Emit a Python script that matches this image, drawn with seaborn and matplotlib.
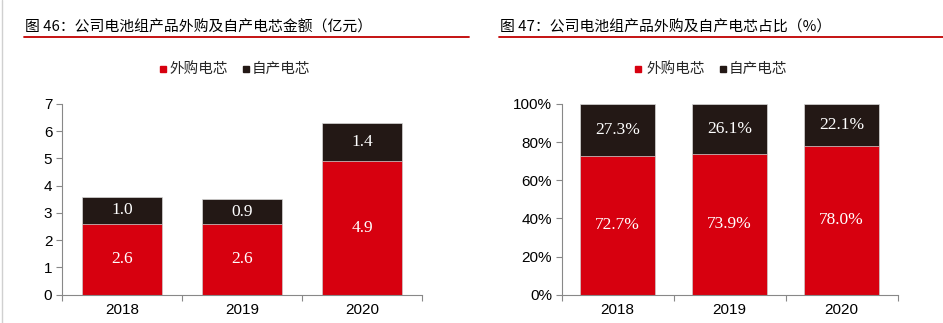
import matplotlib
matplotlib.use("Agg")
import matplotlib.pyplot as plt
from matplotlib.lines import Line2D
from matplotlib.patches import Rectangle
from matplotlib.ticker import FixedLocator
import seaborn as sns
import pandas as pd

years = ["2018", "2019", "2020"]
outsourced = [2.6, 2.6, 4.9]
selfmade = [1.0, 0.9, 1.4]
outsourced_pct = [72.7, 73.9, 78.0]
selfmade_pct = [27.3, 26.1, 22.1]

title_left = "图 46：公司电池组产品外购及自产电芯金额（亿元）"
title_right = "图 47：公司电池组产品外购及自产电芯占比（%）"
legend_labels = ["外购电芯", "自产电芯"]

RED = "#D7000F"
DARK = "#231815"

sns.set_theme(style="white")
plt.rcParams['font.family'] = ['Liberation Sans', 'Noto Sans CJK SC', 'DejaVu Sans']
CJK = ['Noto Sans CJK SC', 'DejaVu Sans']

fig = plt.figure(figsize=(9.43, 3.23), dpi=100)
W, H = 943, 323

def fx(x):
    return x / W

def fy(y):
    return 1 - y / H

# left border line
fig.add_artist(Line2D([fx(2), fx(2)], [0, 1], color="#d0d0d0", lw=1))

def panel(ax_rect, bottom_vals, top_vals, ymax, yticks, ytlabels, fmt):
    ax = fig.add_axes(ax_rect)
    df = pd.DataFrame({"year": years,
                       "total": [a + b for a, b in zip(bottom_vals, top_vals)],
                       "bottom": bottom_vals})
    sns.barplot(data=df, x="year", y="total", order=years, color=DARK,
                width=0.667, saturation=1, edgecolor="#d8d8d8", linewidth=0.5, ax=ax)
    sns.barplot(data=df, x="year", y="bottom", order=years, color=RED,
                width=0.667, saturation=1, edgecolor="#d8d8d8", linewidth=0.5, ax=ax)
    ax.set_xlim(-0.5, 2.5)
    ax.set_ylim(0, ymax)
    ax.set_xlabel("")
    ax.set_ylabel("")
    ax.set_yticks(yticks)
    ax.set_yticklabels(ytlabels)
    ax.xaxis.set_minor_locator(FixedLocator([-0.5, 0.5, 1.5, 2.5]))
    ax.tick_params(axis="x", which="major", length=0, labelsize=11, pad=6, colors="#000000")
    ax.tick_params(axis="x", which="minor", length=4, width=0.8, color="#888888", bottom=True)
    ax.tick_params(axis="y", which="major", length=4, width=0.8, color="#888888", left=True,
                   labelsize=11, pad=3, labelcolor="#000000")
    for s in ["top", "right"]:
        ax.spines[s].set_visible(False)
    for s in ["left", "bottom"]:
        ax.spines[s].set_color("#888888")
        ax.spines[s].set_linewidth(0.8)
    for i, (b, t) in enumerate(zip(bottom_vals, top_vals)):
        ax.text(i, b / 2, fmt(b), ha="center", va="center", color="white",
                fontsize=12.5, family="Liberation Serif")
        ax.text(i, b + t / 2, fmt(t), ha="center", va="center", color="white",
                fontsize=12.5, family="Liberation Serif")
    return ax

axb = 323 - 294.7
axh = 294.7 - 104
panel([fx(62), axb / H, 360 / W, axh / H], outsourced, selfmade, 7,
      [0, 1, 2, 3, 4, 5, 6, 7], [str(v) for v in range(8)], lambda v: f"{v:.1f}")
panel([fx(561.7), axb / H, 336 / W, axh / H], outsourced_pct, selfmade_pct, 100,
      [0, 20, 40, 60, 80, 100], [f"{v}%" for v in range(0, 101, 20)], lambda v: f"{v:.1f}%")

# titles and rules
fig.text(fx(25), fy(27), title_left, ha="left", va="center", fontsize=10.7, family=CJK, color="#000000")
fig.text(fx(500), fy(27), title_right, ha="left", va="center", fontsize=10.7, family=CJK, color="#000000")
fig.add_artist(Line2D([fx(24), fx(469)], [fy(37), fy(37)], color="#C00000", lw=1.3))
fig.add_artist(Line2D([fx(499), fx(943)], [fy(37), fy(37)], color="#C00000", lw=1.3))

# legends
def legend(x0, x_text1, x_sq2, x_text2):
    y = fy(69)
    fig.add_artist(Rectangle((fx(x0), fy(72)), 6 / W, 6 / H, color=RED, transform=fig.transFigure))
    fig.text(fx(x_text1), y, legend_labels[0], ha="left", va="center", fontsize=10.5, family=CJK)
    fig.add_artist(Rectangle((fx(x_sq2), fy(72)), 6 / W, 6 / H, color=DARK, transform=fig.transFigure))
    fig.text(fx(x_text2), y, legend_labels[1], ha="left", va="center", fontsize=10.5, family=CJK)

legend(160, 169, 243, 252)
legend(635, 646, 720, 729)

fig.savefig("out.png", dpi=100)
